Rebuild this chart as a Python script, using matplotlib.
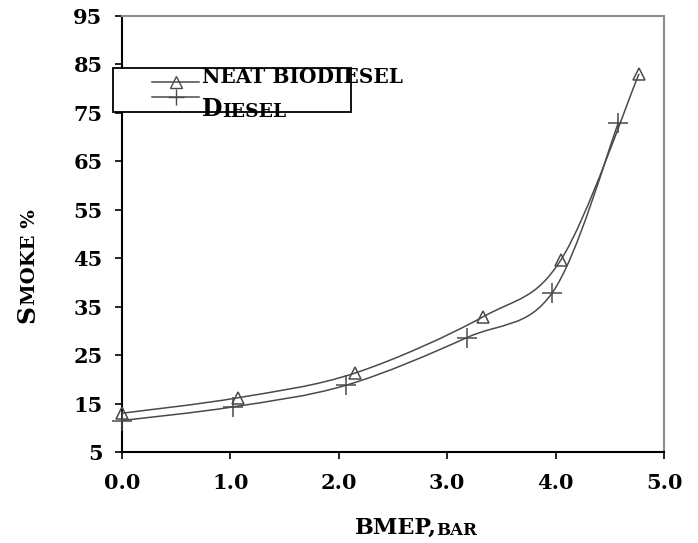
import numpy as np
import matplotlib
matplotlib.use('Agg')
import matplotlib.pyplot as plt
from matplotlib.path import Path
from matplotlib.patches import PathPatch, Rectangle
from matplotlib.lines import Line2D

# values
bmep_bio = [0.0, 1.07, 2.15, 3.33, 4.05, 4.77]
smoke_bio = [13.0, 16.2, 21.3, 32.9, 44.7, 83.1]
bmep_diesel = [0.0, 1.02, 2.07, 3.18, 3.97, 4.58]
smoke_diesel = [11.5, 14.3, 18.8, 28.6, 37.9, 73.0]

x_ticks = [0, 1, 2, 3, 4, 5]
x_tick_labels = ['0.0', '1.0', '2.0', '3.0', '4.0', '5.0']
y_ticks = [5, 15, 25, 35, 45, 55, 65, 75, 85, 95]

line_col = '#4a4a4a'
font = 'DejaVu Serif'


def smooth_path(xs, ys):
    # Excel-style smoothed line as cubic Bezier segments through the points
    pts = np.column_stack([xs, ys])
    n = len(pts)
    verts = [pts[0]]
    codes = [Path.MOVETO]
    for i in range(n - 1):
        p0 = pts[i - 1] if i > 0 else pts[i]
        p1 = pts[i]
        p2 = pts[i + 1]
        p3 = pts[i + 2] if i + 2 < n else pts[i + 1]
        c1 = p1 + (p2 - p0) / 6.0
        c2 = p2 - (p3 - p1) / 6.0
        verts += [c1, c2, p2]
        codes += [Path.CURVE4] * 3
    return Path(verts, codes)


fig = plt.figure(figsize=(6.98, 5.43), dpi=100)
ax = fig.add_axes([0.1748, 0.1676, 0.7765, 0.8029])

for xs, ys, mk, ms in [(bmep_bio, smoke_bio, '^', 9),
                       (bmep_diesel, smoke_diesel, '+', 14)]:
    ax.add_patch(PathPatch(smooth_path(xs, ys), facecolor='none',
                           edgecolor=line_col, lw=1.1, zorder=2))
    ax.plot(xs, ys, linestyle='none', marker=mk, ms=ms, mfc='none',
            mec=line_col, mew=1.1, zorder=3, clip_on=False)

ax.set_xlim(0, 5)
ax.set_ylim(5, 95)
ax.set_xticks(x_ticks)
ax.set_xticklabels(x_tick_labels)
ax.set_yticks(y_ticks)
ax.tick_params(axis='both', direction='out', length=5, width=1.2,
               color='black')
ax.tick_params(axis='x', pad=10)
ax.tick_params(axis='y', pad=9)
for lab in ax.get_xticklabels() + ax.get_yticklabels():
    lab.set_fontfamily(font)
    lab.set_fontweight('bold')
    lab.set_fontsize(15)

for side in ['left', 'bottom']:
    ax.spines[side].set_color('black')
    ax.spines[side].set_linewidth(1.5)
for side in ['top', 'right']:
    ax.spines[side].set_color('#8c8c8c')
    ax.spines[side].set_linewidth(1.5)

# axis labels in small caps style
t1 = fig.text(0.508, 0.017, 'BMEP,', fontfamily=font, fontweight='bold',
              fontsize=16, ha='left', va='baseline')
ax.annotate('BAR', xy=(1, 0), xycoords=t1, fontfamily=font,
            fontweight='bold', fontsize=12, ha='left', va='bottom')
s1 = fig.text(0.022, 0.405, 'S', fontfamily=font, fontweight='bold',
              fontsize=18, rotation=90, ha='left', va='bottom')
ax.annotate('MOKE %', xy=(1, 1), xycoords=s1, fontfamily=font,
            fontweight='bold', fontsize=14, rotation=90,
            ha='right', va='bottom')

# legend box
ax.add_patch(Rectangle((-0.0166, 0.7798), 0.4391, 0.1009,
                       transform=ax.transAxes, facecolor='white',
                       edgecolor='black', lw=1.3, zorder=5, clip_on=False))
for yy, mk, ms in [(0.8486, '^', 8), (0.8142, '+', 12)]:
    ax.add_line(Line2D([0.0554, 0.1421], [yy, yy], color=line_col, lw=1.1,
                       transform=ax.transAxes, zorder=6, clip_on=False))
    ax.add_line(Line2D([0.0988], [yy], marker=mk, ms=ms, mfc='none',
                       mec=line_col, mew=1.0, transform=ax.transAxes,
                       zorder=6, clip_on=False))
ax.text(0.1476, 0.860, 'NEAT BIODIESEL', transform=ax.transAxes,
        fontfamily=font, fontweight='bold', fontsize=14.5, ha='left',
        va='center', zorder=7, clip_on=False)
d1 = ax.text(0.1476, 0.770, 'D', transform=ax.transAxes, fontfamily=font,
             fontweight='bold', fontsize=17, ha='left', va='baseline',
             zorder=7, clip_on=False)
ax.annotate('IESEL', xy=(1, 0), xycoords=d1, fontfamily=font,
            fontweight='bold', fontsize=13.5, ha='left', va='bottom', zorder=7)

fig.savefig('out.png', dpi=100)
